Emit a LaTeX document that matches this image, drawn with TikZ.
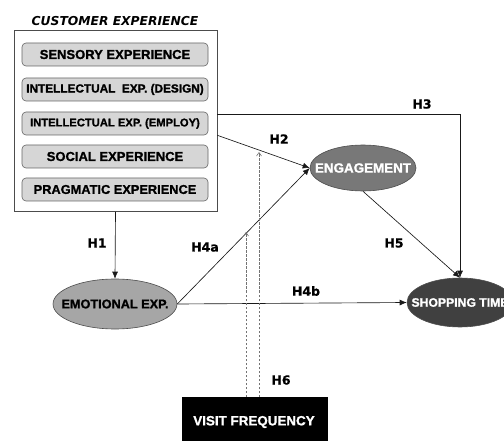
\documentclass[tikz,border=0pt]{standalone}
\usepackage{fontspec}
\setmainfont{Liberation Sans}[BoldFeatures={FakeBold=1.3}]
\newfontfamily\dejavu{DejaVu Sans}[BoldFeatures={FakeBold=0.8}]
\usetikzlibrary{shapes.geometric,arrows.meta}
\begin{document}
\begin{tikzpicture}[x=1pt,y=-1pt,
  outerbox/.style={draw=black!70,line width=0.7pt,fill=white,minimum width=203pt,minimum height=181pt,inner sep=0pt},
  expbox/.style={draw=black!60,line width=0.6pt,fill=black!16,rounded corners=4pt,minimum width=186pt,minimum height=23pt,inner sep=0pt},
  f13/.style={font=\bfseries\fontsize{13}{13}\selectfont},
  f12/.style={font=\bfseries\fontsize{11.8}{12}\selectfont},
  f11/.style={font=\bfseries\fontsize{11.2}{12}\selectfont},
  ell/.style={ellipse,draw=black!70,line width=0.6pt,inner sep=0pt},
  hlab/.style={font=\dejavu\bfseries\fontsize{12.5}{12.5}\selectfont},
  conn/.style={draw=black!90,line width=0.65pt},
  tip/.style={-{Latex[length=7pt,width=6pt]}},
  dashconn/.style={draw=black!55,line width=0.6pt,dashed,dash pattern=on 2.5pt off 1.5pt,-{Straight Barb[length=3.5pt,width=5pt]}}
]
\useasboundingbox (0,0) rectangle (504,441);
\clip (0,0) rectangle (504,441);

% title and outer box
\node[font=\dejavu\bfseries\itshape\fontsize{12.3}{12.3}\selectfont] (title) at (115,21) {CUSTOMER EXPERIENCE};
\node[outerbox] (outer) at (115.5,121) {};

% inner boxes
\node[expbox,f13] (sens) at (115,54.5) {SENSORY EXPERIENCE};
\node[expbox,f12] (design) at (115,89.5) {INTELLECTUAL\ \ EXP. (DESIGN)};
\node[expbox,f11] (employ) at (115,123.5) {INTELLECTUAL EXP. (EMPLOY)};
\node[expbox,f13] (social) at (115,156.5) {SOCIAL EXPERIENCE};
\node[expbox,font=\bfseries\fontsize{12.8}{13}\selectfont] (prag) at (115,189.5) {PRAGMATIC EXPERIENCE};

% construct ellipses (shape) and their texts
\node[ell,fill=black!35,minimum width=124pt,minimum height=50pt] (emo) at (115,304) {};
\node[font=\bfseries\fontsize{12.7}{13}\selectfont] (emotxt) at (emo.center) {EMOTIONAL EXP.};
\node[ell,fill=black!53,minimum width=106pt,minimum height=46pt] (eng) at (363,168) {};
\node[text=white,font=\bfseries\fontsize{13.4}{13}\selectfont] (engtxt) at (eng.center) {ENGAGEMENT};
\node[ell,fill=black!75,minimum width=106pt,minimum height=49pt] (shop) at (460,302.5) {};
\node[text=white,font=\bfseries\fontsize{12.2}{13}\selectfont] (shoptxt) at (shop.center) {SHOPPING TIME};

% visit frequency
\node[fill=black,minimum width=146pt,minimum height=50pt,inner sep=0pt,anchor=north] (visit) at (255,397) {};
\node[text=white,font=\bfseries\fontsize{13.4}{13}\selectfont] (visittxt) at (254,422) {VISIT FREQUENCY};

% connector end points
\coordinate (h3s) at (217,114);
\coordinate (h3c) at (460,114);
\coordinate (d1s) at (246,397);
\coordinate (d1e) at (246,232);
\coordinate (d2s) at (259,397);
\coordinate (d2e) at (259,152);

% connectors
\draw[conn,tip] (outer.south) -- (emo.north);
\draw[conn,tip] (h3s) -- (h3c) -- (shop.north);
\draw[conn,tip] (outer.east |- employ.south) -- (eng.west);
\draw[conn,tip] (emo.east) -- (eng.west);
\draw[conn,tip] (emo.east) -- (shop.west);
\draw[conn,tip] (eng.south) -- (shop.north);
\draw[dashconn] (d1s) -- (d1e);
\draw[dashconn] (d2s) -- (d2e);

% labels
\node[hlab] (lh1) at (97,243) {H1};
\node[hlab] (lh2) at (279,139) {H2};
\node[hlab] (lh3) at (422,104) {H3};
\node[hlab] (lh4a) at (205,247) {H4a};
\node[hlab] (lh4b) at (306,291) {H4b};
\node[hlab] (lh5) at (394,243) {H5};
\node[hlab] (lh6) at (281,380) {H6};
\end{tikzpicture}
\end{document}
